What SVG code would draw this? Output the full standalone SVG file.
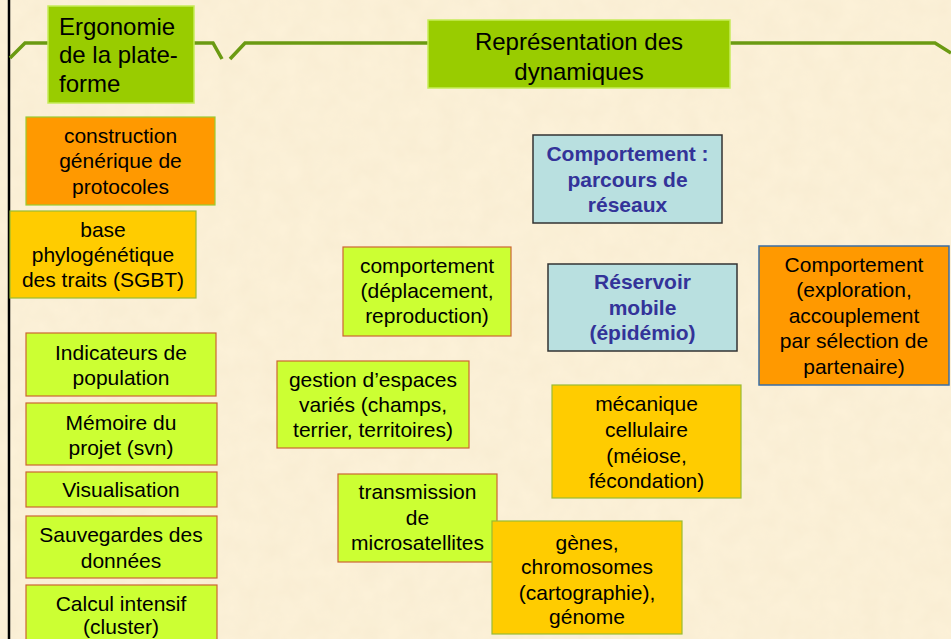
<svg xmlns="http://www.w3.org/2000/svg" width="951" height="639" viewBox="0 0 951 639">
<style>
.t{font-family:"Liberation Sans",Arial,sans-serif;font-size:21px;fill:#000;text-anchor:middle}
.h{font-family:"Liberation Sans",Arial,sans-serif;font-size:24px;fill:#000}
.b{font-family:"Liberation Sans",Arial,sans-serif;font-size:21px;font-weight:bold;fill:#333399;text-anchor:middle}
.title{fill:#99cc00;stroke:#c6ec5a;stroke-width:1.5}
.lg{fill:#ccff33;stroke:#cc6633;stroke-width:1.2}
.or{fill:#ff9900;stroke:#99cc33;stroke-width:1.2}
.ye{fill:#ffcc00;stroke:#99bb33;stroke-width:1.2}
.bl{fill:#b9e0e0;stroke:#333333;stroke-width:1.5}
.br{fill:none;stroke:#6b9a12;stroke-width:3.5}
</style>
<defs>
<filter id="tex" x="0" y="0" width="100%" height="100%">
<feTurbulence type="fractalNoise" baseFrequency="0.05" numOctaves="3" seed="4"/>
<feColorMatrix type="matrix" values="0 0 0 0 0.90  0 0 0 0 0.80  0 0 0 0 0.60  0 0 0 0.55 -0.1"/>
<feComposite in2="SourceGraphic" operator="in"/>
</filter>
</defs>
<rect width="951" height="639" fill="#fcf1d8"/>
<rect width="951" height="639" fill="#fcf1d8" filter="url(#tex)"/>
<line x1="9" y1="0" x2="9" y2="639" stroke="#000" stroke-width="2.5"/>
<g id="connectors">
<polyline class="br" points="10,58 25,43 50,43"/>
<polyline class="br" points="192,43 213,43 222,59"/>
<polyline class="br" points="230,59 245,43 430,43"/>
<polyline class="br" points="728,43 935,43 951,53"/>
</g>
<g id="ergonomie">
<rect class="title" x="48" y="6" width="146" height="97"/>
<text class="h" x="59" y="35">Ergonomie</text>
<text class="h" x="59" y="63">de la plate-</text>
<text class="h" x="59" y="92">forme</text>
</g>
<g id="representation">
<rect class="title" x="428" y="20" width="302" height="68"/>
<text class="h" x="579" y="50" text-anchor="middle">Représentation des</text>
<text class="h" x="579" y="80" text-anchor="middle">dynamiques</text>
</g>
<g id="construction">
<rect class="or" x="26" y="117" width="189" height="88"/>
<text class="t" x="120.5" y="143">construction</text>
<text class="t" x="120.5" y="168">générique de</text>
<text class="t" x="120.5" y="194">protocoles</text>
</g>
<g id="base">
<rect class="ye" x="10" y="211" width="186" height="87"/>
<text class="t" x="103" y="237">base</text>
<text class="t" x="103" y="262">phylogénétique</text>
<text class="t" x="103" y="287">des traits (SGBT)</text>
</g>
<g id="indicateurs">
<rect class="lg" x="26" y="333" width="190" height="63"/>
<text class="t" x="121" y="360">Indicateurs de</text>
<text class="t" x="121" y="385">population</text>
</g>
<g id="memoire">
<rect class="lg" x="26" y="403" width="191" height="62"/>
<text class="t" x="121" y="430">Mémoire du</text>
<text class="t" x="121" y="455">projet (svn)</text>
</g>
<g id="visualisation">
<rect class="lg" x="26" y="472" width="191" height="35"/>
<text class="t" x="121" y="497">Visualisation</text>
</g>
<g id="sauvegardes">
<rect class="lg" x="26" y="516" width="191" height="62"/>
<text class="t" x="121" y="542">Sauvegardes des</text>
<text class="t" x="121" y="568">données</text>
</g>
<g id="calcul">
<rect class="lg" x="26" y="585" width="191" height="62"/>
<text class="t" x="121" y="611">Calcul intensif</text>
<text class="t" x="121" y="634">(cluster)</text>
</g>
<g id="comportement-deplacement">
<rect class="lg" x="343" y="247" width="168" height="89"/>
<text class="t" x="427" y="273">comportement</text>
<text class="t" x="427" y="298">(déplacement,</text>
<text class="t" x="427" y="323">reproduction)</text>
</g>
<g id="gestion">
<rect class="lg" x="277" y="361" width="192" height="87"/>
<text class="t" x="373" y="387">gestion d’espaces</text>
<text class="t" x="373" y="412">variés (champs,</text>
<text class="t" x="373" y="437">terrier, territoires)</text>
</g>
<g id="transmission">
<rect class="lg" x="338" y="474" width="159" height="88"/>
<text class="t" x="417.5" y="499">transmission</text>
<text class="t" x="417.5" y="525">de</text>
<text class="t" x="417.5" y="550">microsatellites</text>
</g>
<g id="genes">
<rect class="ye" x="492" y="521" width="190" height="113"/>
<text class="t" x="587" y="550">gènes,</text>
<text class="t" x="587" y="574">chromosomes</text>
<text class="t" x="587" y="600">(cartographie),</text>
<text class="t" x="587" y="624">génome</text>
</g>
<g id="mecanique">
<rect class="ye" x="552" y="385" width="189" height="113"/>
<text class="t" x="646.5" y="411">mécanique</text>
<text class="t" x="646.5" y="437">cellulaire</text>
<text class="t" x="646.5" y="463">(méiose,</text>
<text class="t" x="646.5" y="488">fécondation)</text>
</g>
<g id="parcours">
<rect class="bl" x="533" y="135" width="189" height="88"/>
<text class="b" x="627.5" y="161">Comportement :</text>
<text class="b" x="627.5" y="187">parcours de</text>
<text class="b" x="627.5" y="212">réseaux</text>
</g>
<g id="reservoir">
<rect class="bl" x="548" y="264" width="189" height="87"/>
<text class="b" x="642.5" y="289">Réservoir</text>
<text class="b" x="642.5" y="315">mobile</text>
<text class="b" x="642.5" y="340">(épidémio)</text>
</g>
<g id="comportement-exploration">
<rect x="759" y="246" width="190" height="139" fill="#ff9900" stroke="#3a6ea5" stroke-width="1.5"/>
<text class="t" x="854" y="272">Comportement</text>
<text class="t" x="854" y="297">(exploration,</text>
<text class="t" x="854" y="323">accouplement</text>
<text class="t" x="854" y="348">par sélection de</text>
<text class="t" x="854" y="374">partenaire)</text>
</g>
</svg>
